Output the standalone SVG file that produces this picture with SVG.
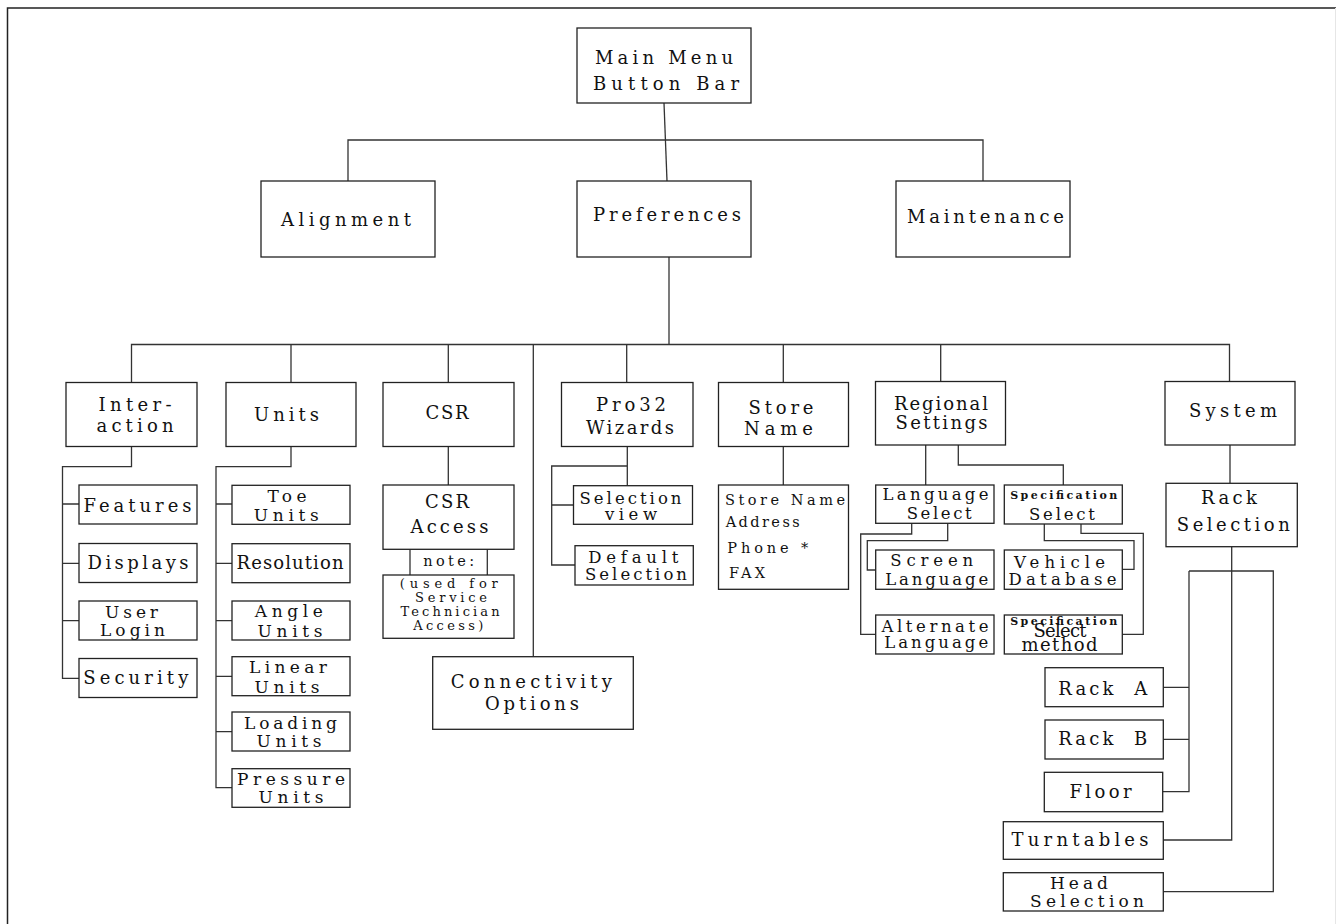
<svg xmlns="http://www.w3.org/2000/svg" width="1336" height="924" viewBox="0 0 1336 924">
<style>
.b{fill:#fff;stroke:#222;stroke-width:1.3}
.c{fill:none;stroke:#333;stroke-width:1.3}
text{font-family:"DejaVu Serif","Liberation Serif",serif;font-size:18px;fill:#111;text-anchor:middle}
.t2{font-size:17px}
.s19{font-size:16.5px}
.s16{font-size:14.5px}
.s15{font-size:13px}
.sm{font-size:11px;font-weight:bold}
.l{text-anchor:start}
</style>
<rect width="1336" height="924" fill="#fff"/>
<path d="M7.5,924 V8 H1336" fill="none" stroke="#222" stroke-width="1.5"/>
<path d="M1335.5,8 V924" fill="none" stroke="#e6e6e6" stroke-width="1"/>
<g id="connectors" class="c">
<path d="M664,103 L667,181"/>
<path d="M348,181 V140 H983 V181"/>
<path d="M669,257 V344.5"/>
<path d="M131.5,382.5 V344.5 H1229.5 V381.5"/>
<path d="M291,344.5 V382.5 M448.3,344.5 V382.5 M533.3,344.5 V656.7 M626.7,344.5 V382.5 M783.3,344.5 V382.5 M940.7,344.5 V381.5"/>
<path d="M131.5,446.5 V466.7 H62.5 V678.3 H79 M62.5,504 H79 M62.5,563.3 H79 M62.5,620.7 H79"/>
<path d="M291,446.5 V466.7 H216 V787.7 H232 M216,504 H232 M216,563.3 H232 M216,620.7 H232 M216,676.3 H232 M216,731.7 H232"/>
<path d="M448.3,446.5 V485 M410,549.3 V575 M487.3,549.3 V575"/>
<path d="M627.3,446.5 V485.7 M627.3,466 H551.7 V565 H575 M551.7,505 H573.5"/>
<path d="M783.3,446.5 V485"/>
<path d="M925.7,445 V485 M958.3,445 V465 H1063.3 V485"/>
<path d="M947.7,523.3 V540.7 H867.3 V570 H875.7 M911.7,523.3 V534 H860.7 V634.3 H875.7"/>
<path d="M1044.3,524 V540.7 H1134 V569.3 H1122.3 M1081,524 V533.3 H1143.3 V634.3 H1122.3"/>
<path d="M1230,445 V483.3"/>
<path d="M1231.7,546.7 V840 H1163.3 M1189,571 H1273.3 V891.7 H1163.3 M1189,571 V791.7 H1162.7 M1189,687.3 H1163.3 M1189,739.3 H1163.3"/>
</g>
<g id="main"><rect class="b" x="577" y="28" width="174" height="75"/><text x="664" y="64" font-size="20" textLength="138" lengthAdjust="spacing">Main Menu</text><text x="666" y="90" font-size="20" textLength="146" lengthAdjust="spacing">Button Bar</text></g>
<g id="alignment"><rect class="b" x="261" y="181" width="174" height="76"/><text x="346" y="226" font-size="19" textLength="130" lengthAdjust="spacing">Alignment</text></g>
<g id="preferences"><rect class="b" x="577" y="181" width="174" height="76"/><text x="667" y="221" font-size="19" textLength="148" lengthAdjust="spacing">Preferences</text></g>
<g id="maintenance"><rect class="b" x="896" y="181" width="174" height="76"/><text x="985.5" y="222.5" font-size="19" textLength="157" lengthAdjust="spacing">Maintenance</text></g>
<g id="interaction"><rect class="b" x="66" y="382.5" width="131" height="64"/><text x="135" y="411" textLength="73" lengthAdjust="spacing">Inter-</text><text x="135" y="431.5" textLength="77" lengthAdjust="spacing">action</text></g>
<g id="units"><rect class="b" x="226" y="382.5" width="130" height="64"/><text x="286.5" y="420.5" textLength="65" lengthAdjust="spacing">Units</text></g>
<g id="csr"><rect class="b" x="383" y="382.5" width="131" height="64"/><text x="447" y="419" textLength="43" lengthAdjust="spacing">CSR</text></g>
<g id="pro32"><rect class="b" x="561.5" y="382.5" width="131.5" height="64"/><text x="631" y="411" textLength="70" lengthAdjust="spacing">Pro32</text><text x="630" y="434" textLength="88" lengthAdjust="spacing">Wizards</text></g>
<g id="storename"><rect class="b" x="718.5" y="382.5" width="130" height="64"/><text x="781" y="414" textLength="65" lengthAdjust="spacing">Store</text><text x="778.5" y="435" textLength="69" lengthAdjust="spacing">Name</text></g>
<g id="regional"><rect class="b" x="875.5" y="381.5" width="130" height="63.5"/><text x="941" y="409.5" textLength="94" lengthAdjust="spacing">Regional</text><text x="941.5" y="428.5" textLength="92" lengthAdjust="spacing">Settings</text></g>
<g id="system"><rect class="b" x="1165" y="381.5" width="130" height="63.5"/><text x="1233" y="417" textLength="88" lengthAdjust="spacing">System</text></g>
<g id="features"><rect class="b" x="79" y="485" width="118" height="39"/><text x="137.5" y="511.5" textLength="108" lengthAdjust="spacing">Features</text></g>
<g id="displays"><rect class="b" x="79" y="543.5" width="118" height="39"/><text x="138" y="569" textLength="101" lengthAdjust="spacing">Displays</text></g>
<g id="userlogin"><rect class="b" x="79" y="601" width="118" height="39"/><text class="t2" x="131.5" y="618" textLength="53" lengthAdjust="spacing">User</text><text class="t2" x="132.5" y="635.5" textLength="65" lengthAdjust="spacing">Login</text></g>
<g id="security"><rect class="b" x="79" y="658.5" width="118" height="39"/><text x="135.8" y="683.5" textLength="105" lengthAdjust="spacing">Security</text></g>
<g id="toeunits"><rect class="b" x="232" y="485.3" width="118" height="39"/><text class="t2" x="287" y="501.5" textLength="39" lengthAdjust="spacing">Toe</text><text class="t2" x="286.3" y="520.5" textLength="65" lengthAdjust="spacing">Units</text></g>
<g id="resolution"><rect class="b" x="232" y="543.7" width="118" height="39"/><text x="290" y="569" font-size="15" textLength="107" lengthAdjust="spacing">Resolution</text></g>
<g id="angleunits"><rect class="b" x="232" y="601" width="118" height="39"/><text class="t2" x="288.8" y="617" textLength="68" lengthAdjust="spacing">Angle</text><text class="t2" x="290" y="637" textLength="65" lengthAdjust="spacing">Units</text></g>
<g id="linearunits"><rect class="b" x="232" y="656.7" width="118" height="39"/><text class="t2" x="288" y="673" textLength="78" lengthAdjust="spacing">Linear</text><text class="t2" x="287" y="692.5" textLength="65" lengthAdjust="spacing">Units</text></g>
<g id="loadingunits"><rect class="b" x="232" y="712" width="118" height="39"/><text class="t2" x="290.5" y="729" textLength="93" lengthAdjust="spacing">Loading</text><text class="t2" x="289" y="746.5" textLength="65" lengthAdjust="spacing">Units</text></g>
<g id="pressureunits"><rect class="b" x="232" y="768.7" width="118" height="38.6"/><text class="t2" x="291" y="785" textLength="108" lengthAdjust="spacing">Pressure</text><text class="t2" x="291" y="803" textLength="65" lengthAdjust="spacing">Units</text></g>
<g id="csraccess"><rect class="b" x="383" y="485" width="131" height="64.3"/><text x="447" y="508" textLength="44" lengthAdjust="spacing">CSR</text><text x="449.5" y="533" textLength="78" lengthAdjust="spacing">Access</text></g>
<g id="note"><text class="s16" x="448.7" y="566" textLength="51" lengthAdjust="spacing">note:</text></g>
<g id="servicenote"><rect class="b" x="383" y="575" width="131" height="63.3"/><text class="s15" x="448.8" y="587.5" textLength="98" lengthAdjust="spacing">(used for</text><text class="s15" x="451" y="601.5" textLength="72" lengthAdjust="spacing">Service</text><text class="s15" x="450" y="615.5" textLength="99" lengthAdjust="spacing">Technician</text><text class="s15" x="448.3" y="629.5" textLength="70" lengthAdjust="spacing">Access)</text></g>
<g id="connectivity"><rect class="b" x="432.7" y="656.7" width="200.6" height="72.6"/><text x="531.3" y="688" textLength="161" lengthAdjust="spacing">Connectivity</text><text x="532" y="710" textLength="94" lengthAdjust="spacing">Options</text></g>
<g id="selectionview"><rect class="b" x="573.5" y="485.7" width="119" height="38.6"/><text class="s19" x="630.5" y="503.5" textLength="102" lengthAdjust="spacing">Selection</text><text class="s19" x="631" y="520" textLength="52" lengthAdjust="spacing">view</text></g>
<g id="defaultselection"><rect class="b" x="575" y="545.7" width="118.3" height="39.3"/><text class="s19" x="633.3" y="562.5" textLength="90" lengthAdjust="spacing">Default</text><text class="s19" x="636" y="580" textLength="102" lengthAdjust="spacing">Selection</text></g>
<g id="storeinfo"><rect class="b" x="718.5" y="485" width="130" height="104.3"/><text class="s16 l" x="725" y="505" textLength="120" lengthAdjust="spacing">Store Name</text><text class="s16 l" x="725.7" y="526.5" textLength="74" lengthAdjust="spacing">Address</text><text class="s16 l" x="727.3" y="553.3" textLength="81" lengthAdjust="spacing">Phone *</text><text class="s16 l" x="729" y="578.3" textLength="36" lengthAdjust="spacing">FAX</text></g>
<g id="languageselect"><rect class="b" x="875.7" y="485" width="118.3" height="38.3"/><text class="s19" x="935.5" y="500" textLength="106" lengthAdjust="spacing">Language</text><text class="s19" x="939.2" y="518.5" textLength="65" lengthAdjust="spacing">Select</text></g>
<g id="specselect"><rect class="b" x="1004.3" y="485" width="118" height="39"/><text class="sm" x="1063.7" y="499.3" textLength="107" lengthAdjust="spacing">Specification</text><text class="s19" x="1062" y="519.5" textLength="66" lengthAdjust="spacing">Select</text></g>
<g id="screenlanguage"><rect class="b" x="875.7" y="550" width="118.3" height="39.3"/><text class="s19" x="931.7" y="565.5" textLength="83" lengthAdjust="spacing">Screen</text><text class="s19" x="936.7" y="584.5" textLength="103" lengthAdjust="spacing">Language</text></g>
<g id="vehicledatabase"><rect class="b" x="1004.3" y="550" width="118" height="39.3"/><text class="s19" x="1059.5" y="567.5" textLength="91" lengthAdjust="spacing">Vehicle</text><text class="s19" x="1062.5" y="584.5" textLength="108" lengthAdjust="spacing">Database</text></g>
<g id="alternatelanguage"><rect class="b" x="875.7" y="615" width="118.3" height="39"/><text class="s19" x="935" y="631.5" textLength="107" lengthAdjust="spacing">Alternate</text><text class="s19" x="936.2" y="648" textLength="104" lengthAdjust="spacing">Language</text></g>
<g id="specmethod"><rect class="b" x="1004.3" y="615" width="118" height="39"/><text class="sm" x="1063.7" y="625" font-size="10" textLength="107" lengthAdjust="spacing">Specification</text><text x="1060" y="637" font-size="11" textLength="53" lengthAdjust="spacing">Select</text><text x="1059.5" y="651" font-size="14" textLength="76" lengthAdjust="spacing">method</text></g>
<g id="rackselection"><rect class="b" x="1166" y="483.3" width="131.3" height="63.4"/><text x="1229" y="504" textLength="56" lengthAdjust="spacing">Rack</text><text x="1233.3" y="530.5" textLength="113" lengthAdjust="spacing">Selection</text></g>
<g id="racka"><rect class="b" x="1045" y="667.7" width="118.3" height="39"/><text x="1102.8" y="695" textLength="89" lengthAdjust="spacing" xml:space="preserve">Rack  A</text></g>
<g id="rackb"><rect class="b" x="1045" y="720" width="118.3" height="39"/><text x="1102.8" y="745" textLength="89" lengthAdjust="spacing" xml:space="preserve">Rack  B</text></g>
<g id="floor"><rect class="b" x="1044.3" y="772.3" width="118.4" height="39.4"/><text x="1100.5" y="798" textLength="62" lengthAdjust="spacing">Floor</text></g>
<g id="turntables"><rect class="b" x="1003.3" y="821.7" width="160" height="37.6"/><text x="1080" y="846" textLength="137" lengthAdjust="spacing">Turntables</text></g>
<g id="headselection"><rect class="b" x="1003.3" y="872.7" width="160" height="38.3"/><text class="t2" x="1079" y="889" textLength="58" lengthAdjust="spacing">Head</text><text class="t2" x="1087" y="906.5" textLength="114" lengthAdjust="spacing">Selection</text></g>
</svg>
